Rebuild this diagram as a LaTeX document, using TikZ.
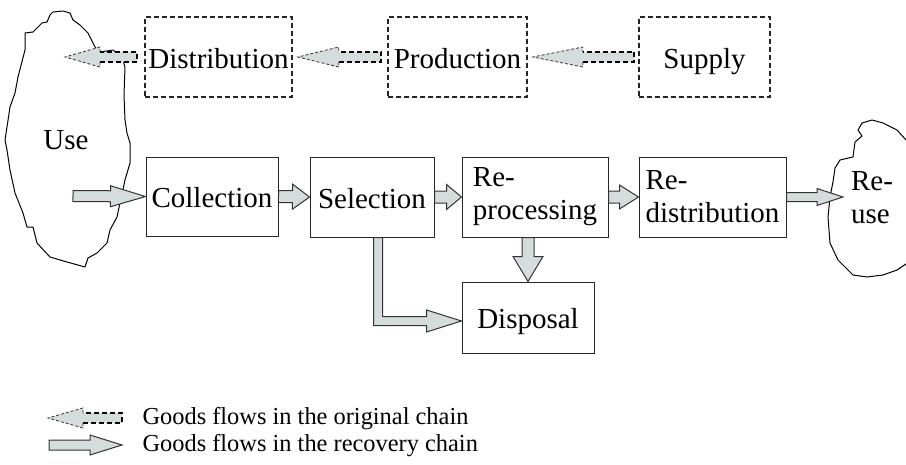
\documentclass[tikz,border=0pt]{standalone}
\usepackage{fontspec}
\setmainfont{Liberation Serif}
\usepackage{tikz}
\usetikzlibrary{calc, positioning}

\definecolor{flowgray}{RGB}{212,221,219}
\definecolor{edgegray}{RGB}{50,50,50}

\tikzset{
  box/.style={draw=black!85, line width=1pt, inner sep=0pt, align=left},
  oneline/.style={text height=27pt, text depth=5pt},
  orgbox/.style={box, oneline, dash pattern=on 5pt off 3pt, line width=1.6pt},
  flow/.style={draw=edgegray, line width=1pt, fill=flowgray, line join=miter},
  orghead/.style={draw=edgegray, line width=0.8pt, dash pattern=on 3pt off 2pt},
  orgshaft/.style={draw=black, line width=1.8pt, dash pattern=on 5pt off 3pt},
  cloudline/.style={draw=black, line width=1pt, line join=round},
}

% block arrow of the recovery chain: from, tip, head length, half shaft, half head
\newcommand{\recarrow}[5]{%
  \coordinate (hb) at ($(#2)!#3!(#1)$);
  \draw[flow] ($(#1)!#4!90:(#2)$) -- ($(hb)!#4!90:(#2)$) -- ($(hb)!#5!90:(#2)$) -- (#2)
    -- ($(hb)!#5!-90:(#2)$) -- ($(hb)!#4!-90:(#2)$) -- ($(#1)!#4!-90:(#2)$) -- cycle;
}
% dashed block arrow of the original chain
\newcommand{\orgarrow}[5]{%
  \coordinate (hb) at ($(#2)!#3!(#1)$);
  \fill[flowgray] ($(#1)!#4!90:(#2)$) -- ($(hb)!#4!90:(#2)$) -- ($(hb)!#5!90:(#2)$) -- (#2)
    -- ($(hb)!#5!-90:(#2)$) -- ($(hb)!#4!-90:(#2)$) -- ($(#1)!#4!-90:(#2)$) -- cycle;
  \draw[orghead] ($(hb)!#4!90:(#2)$) -- ($(hb)!#5!90:(#2)$) -- (#2)
    -- ($(hb)!#5!-90:(#2)$) -- ($(hb)!#4!-90:(#2)$);
  \draw[orgshaft] ($(hb)!#4!90:(#2)$) -- ($(#1)!#4!90:(#2)$)
    -- ($(#1)!#4!-90:(#2)$) -- ($(hb)!#4!-90:(#2)$);
}

\begin{document}
\begin{tikzpicture}[x=1pt, y=-1pt, font=\fontsize{29}{33}\selectfont]
        \useasboundingbox (0,0) rectangle (906,464);

        % the two clouds
        \draw[cloudline] plot coordinates {(53,12) (63,11) (70,13) (73,20) (80,25) (88,33) (95,47) (100,52)
          (113,50) (122,57) (125,67) (124,95) (125,120) (127,133) (130,143) (130,163) (125,180)
          (120,203) (117,217) (110,230) (107,243) (97,253) (88,258) (85,267) (67,262) (50,257)
          (37,243) (33,227) (27,227) (23,213) (15,193) (10,170) (7,150) (5,140) (7,127) (10,107)
          (15,93) (18,77) (25,50) (25,33) (33,32) (38,27) (42,23) (47,22) (50,15)} -- cycle;
        \draw[cloudline] plot coordinates {(906,140) (897,130) (883,123) (872,120) (862,123) (858,130)
          (862,136) (855,142) (853,157) (840,160) (835,168) (833,182) (830,197) (828,217) (830,243)
          (838,260) (853,275) (867,277) (883,275) (897,270) (906,264)};
        \node (use) at (66,140) {Use};
        \node[align=left] (reuse) at (872,198) {Re-\\use};

        % original chain
        \node[orgbox, minimum width=147, minimum height=80] (dist) at (218.5,57) {Distribution};
        \node[orgbox, minimum width=139, minimum height=80] (prod) at (457.5,57) {Production};
        \node[orgbox, minimum width=131, minimum height=80] (supp) at (704.5,57) {Supply};

        % recovery chain
        \node[box, oneline, minimum width=132, minimum height=79] (coll) at (212,196.5) {Collection};
        \node[box, oneline, minimum width=124, minimum height=80] (sel) at (372,197) {Selection};
        \node[box, minimum width=146, minimum height=80] (rep) at (535,197) {Re-\\processing};
        \node[box, minimum width=147, minimum height=80] (redis) at (712.5,197) {Re-\\distribution};
        \node[box, oneline, minimum width=132, minimum height=71] (disp) at (528,317.5) {Disposal};

        \coordinate (usetop) at (65,57);
        \coordinate (d0) at ([xshift=-7pt]dist.west);
        \coordinate (p0) at ([xshift=-6pt]prod.west);
        \coordinate (p1) at ([xshift=5pt]dist.east);
        \coordinate (s0) at ([xshift=-4pt]supp.west);
        \coordinate (s1) at ([xshift=5pt]prod.east);
        \orgarrow{d0}{usetop}{35pt}{5pt}{10pt}
        \orgarrow{p0}{p1}{41pt}{5pt}{10pt}
        \orgarrow{s0}{s1}{50pt}{5pt}{10pt}

        \coordinate (usein) at (73,196);
        \coordinate (reusein) at (843,197);
        \coordinate (rep0) at (rep.south -| disp.north);
        \recarrow{usein}{coll.west}{35pt}{5.5pt}{10.5pt}
        \recarrow{coll.east}{sel.west}{17pt}{6pt}{12.5pt}
        \recarrow{sel.east}{rep.west}{15pt}{6pt}{12.5pt}
        \recarrow{rep.east}{redis.west}{19pt}{6pt}{12pt}
        \recarrow{redis.east}{reusein}{26pt}{4.5pt}{8.5pt}
        \recarrow{rep0}{disp.north}{25pt}{6pt}{15pt}

        % selection to disposal, round the corner
        \coordinate (sel0) at ([xshift=6pt]sel.south);
        \coordinate (dispin) at ([yshift=-3.5pt]disp.west);
        \draw[flow] ($(sel0)+(-4.5,0)$) |- ($(dispin)+(-35,4.5)$) -- ++(0,6.5) -- (dispin)
          -- ++(-35,-11) -- ++(0,6.5) -| ($(sel0)+(4.5,0)$) -- cycle;

        % legend
        \coordinate (l1a) at (122,418);
        \coordinate (l1b) at (48,418);
        \coordinate (l2a) at (49,445);
        \coordinate (l2b) at (122,445);
        \orgarrow{l1a}{l1b}{35pt}{5pt}{10pt}
        \recarrow{l2a}{l2b}{32pt}{5pt}{10pt}
        \node[anchor=west, font=\fontsize{24.4}{28}\selectfont] (leg1) at (139,419) {Goods flows in the original chain};
        \node[anchor=west, font=\fontsize{24.4}{28}\selectfont] (leg2) at (139,446) {Goods flows in the recovery chain};
\end{tikzpicture}
\end{document}
